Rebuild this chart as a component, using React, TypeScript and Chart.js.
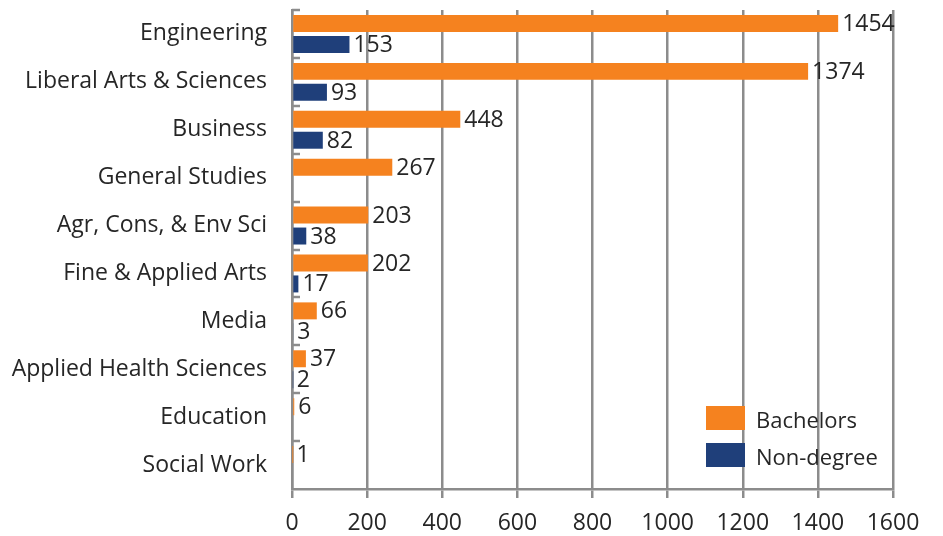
import React, { useEffect, useRef } from "react";
import { Chart, registerables } from "chart.js";

Chart.register(...registerables);

const categories = [
  "Engineering",
  "Liberal Arts & Sciences",
  "Business",
  "General Studies",
  "Agr, Cons, & Env Sci",
  "Fine & Applied Arts",
  "Media",
  "Applied Health Sciences",
  "Education",
  "Social Work",
];
const bachelors = [1454, 1374, 448, 267, 203, 202, 66, 37, 6, 1];
const nonDegree = [153, 93, 82, null, 38, 17, 3, 2, null, null];
const seriesNames = ["Bachelors", "Non-degree"];
const seriesColors = ["#F5821F", "#1F3F7A"];
const xMin = 0;
const xMax = 1600;
const xStep = 200;

const FONT = "'Open Sans', sans-serif";
const TEXT = "#262626";
const GRID = "#8c8c8c";

const labelPlugin = {
  id: "valueLabels",
  afterDatasetsDraw(chart: any) {
    const ctx = chart.ctx;
    ctx.save();
    ctx.font = `23px ${FONT}`;
    ctx.fillStyle = TEXT;
    ctx.textAlign = "left";
    ctx.textBaseline = "middle";
    chart.data.datasets.forEach((ds: any, di: number) => {
      const meta = chart.getDatasetMeta(di);
      meta.data.forEach((bar: any, i: number) => {
        const v = ds.data[i];
        if (v === null || v === undefined) return;
        ctx.fillText(String(v), bar.x + 4, bar.y + 1);
      });
    });
    ctx.restore();
  },
};

const axisTicksPlugin = {
  id: "yInnerTicks",
  afterDraw(chart: any) {
    const ctx = chart.ctx;
    const area = chart.chartArea;
    const n = categories.length;
    const band = (area.bottom - area.top) / n;
    ctx.save();
    ctx.strokeStyle = GRID;
    ctx.lineWidth = 2.5;
    for (let i = 0; i < n; i++) {
      const y = Math.round(area.top + i * band);
      ctx.beginPath();
      ctx.moveTo(area.left, y);
      ctx.lineTo(area.left + 8, y);
      ctx.stroke();
    }
    ctx.restore();
  },
};

const legendPlugin = {
  id: "innerLegend",
  afterDraw(chart: any) {
    const ctx = chart.ctx;
    const area = chart.chartArea;
    const x = area.left + 414;
    const y0 = area.top + 396;
    ctx.save();
    ctx.font = `22px ${FONT}`;
    ctx.textBaseline = "middle";
    ctx.textAlign = "left";
    seriesNames.forEach((name, i) => {
      const y = y0 + i * 37;
      ctx.fillStyle = seriesColors[i];
      ctx.fillRect(x, y, 39, 24);
      ctx.fillStyle = TEXT;
      ctx.fillText(name, x + 50, y + 16);
    });
    ctx.restore();
  },
};

export default function App() {
  const ref = useRef<HTMLCanvasElement>(null);
  useEffect(() => {
    if (!ref.current) return;
    const chart = new Chart(ref.current, {
      type: "bar",
      data: {
        labels: categories,
        datasets: [
          {
            label: seriesNames[0],
            data: bachelors,
            backgroundColor: seriesColors[0],
            categoryPercentage: 0.875,
            barPercentage: 0.81,
          },
          {
            label: seriesNames[1],
            data: nonDegree,
            backgroundColor: seriesColors[1],
            categoryPercentage: 0.875,
            barPercentage: 0.81,
          },
        ],
      },
      options: {
        indexAxis: "y",
        animation: false,
        responsive: false,
        maintainAspectRatio: false,
        layout: { padding: { top: 10, right: 50, left: 0, bottom: 0 } },
        plugins: {
          legend: { display: false },
          tooltip: { enabled: false },
        },
        scales: {
          x: {
            min: xMin,
            max: xMax,
            ticks: {
              stepSize: xStep,
              color: TEXT,
              font: { family: FONT, size: 23 },
              padding: 12,
              callback: (v: any) => String(v),
            },
            grid: {
              color: GRID,
              lineWidth: 2.5,
              tickLength: 9,
              drawTicks: true,
            },
            border: { color: GRID, width: 2.5 },
            afterFit(scale: any) {
              scale.height = 47;
              scale.paddingLeft = 0;
              scale.paddingRight = 0;
            },
          },
          y: {
            ticks: {
              color: TEXT,
              font: { family: FONT, size: 23 },
              padding: 25,
            },
            grid: { display: false, drawTicks: false },
            border: { color: GRID, width: 2.5 },
            afterFit(scale: any) {
              scale.width = 292;
              scale.paddingTop = 0;
              scale.paddingBottom = 0;
            },
          },
        },
      },
      plugins: [labelPlugin, axisTicksPlugin, legendPlugin],
    });
    return () => chart.destroy();
  }, []);
  return (
    <div style={{ position: "fixed", left: 0, top: 0, width: 943, height: 536, background: "#fff" }}>
      <canvas ref={ref} width={943} height={536} style={{ display: "block" }} />
    </div>
  );
}
